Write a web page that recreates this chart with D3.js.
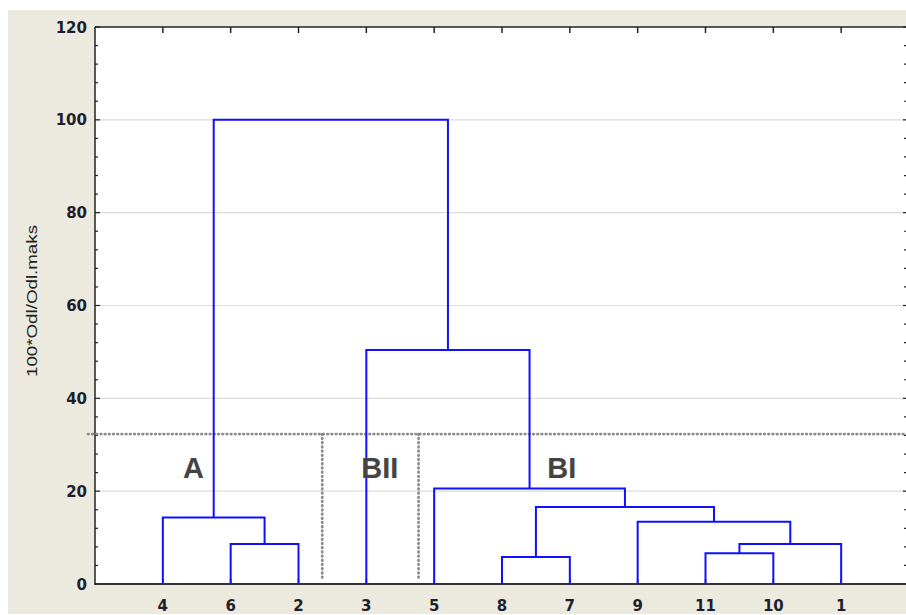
<!DOCTYPE html>
<html>
<head>
<meta charset="utf-8">
<script src="https://cdn.jsdelivr.net/npm/d3@7"></script>
<style>
  body { margin: 0; background: #fff; }
  svg { display: block; }
</style>
</head>
<body>
<div id="chart"></div>
<script>
// leaf order along the x axis
var leaves = ['4', '6', '2', '3', '5', '8', '7', '9', '11', '10', '1'];

// merges: node ids 0..10 are leaves, each merge makes a new node 11, 12, ...
var mergeLeft   = [5, 8, 1, 12, 7, 0, 11, 4, 3, 16];
var mergeRight  = [6, 9, 2, 10, 14, 13, 15, 17, 18, 19];
var mergeHeight = [5.8, 6.6, 8.6, 8.6, 13.4, 14.3, 16.6, 20.6, 50.4, 100];

var yTicks = [0, 20, 40, 60, 80, 100, 120];
var cutHeight = 32.3;
var cutDividers = [3.35, 4.77];
var groupNames = ['A', 'BII', 'BI'];
var groupPos = [1.45, 4.2, 6.88];

var W = 906, H = 615;
var margin = { top: 27, left: 95, bottom: 31 };

var x = d3.scaleLinear().domain([0, 12]).range([margin.left, 909]);
var y = d3.scaleLinear().domain([0, 120]).range([H - margin.bottom, margin.top]);

var svg = d3.select('#chart').append('svg')
  .attr('width', W)
  .attr('height', H);

// beige frame + white plot area
svg.append('rect').attr('x', 8).attr('y', 10).attr('width', W - 8).attr('height', 604).attr('fill', '#ece9df');
svg.append('rect')
  .attr('x', x(0)).attr('y', y(120))
  .attr('width', x(12) - x(0)).attr('height', y(0) - y(120))
  .attr('fill', '#fff');

// grid
svg.append('g').selectAll('line')
  .data(yTicks.filter(function (d) { return d > 0 && d < 120; }))
  .enter().append('line')
  .attr('x1', x(0)).attr('x2', x(12))
  .attr('y1', function (d) { return y(d); })
  .attr('y2', function (d) { return y(d); })
  .attr('stroke', '#dcdcdc').attr('stroke-width', 1.2);

// minor ticks, left (inward) and right (inward)
var minor = d3.range(0, 121, 4);
svg.append('g').selectAll('line').data(minor).enter().append('line')
  .attr('x1', x(0)).attr('x2', function (d) { return x(0) + (d % 20 === 0 ? 5 : 3); })
  .attr('y1', function (d) { return y(d); }).attr('y2', function (d) { return y(d); })
  .attr('stroke', '#222').attr('stroke-width', 1.2);
svg.append('g').selectAll('line').data(minor).enter().append('line')
  .attr('x1', x(12)).attr('x2', function (d) { return x(12) - (d % 20 === 0 ? 6 : 5); })
  .attr('y1', function (d) { return y(d); }).attr('y2', function (d) { return y(d); })
  .attr('stroke', '#222').attr('stroke-width', 1.2);

// top and bottom category ticks
var cats = d3.range(1, leaves.length + 1);
svg.append('g').selectAll('line').data(cats).enter().append('line')
  .attr('x1', function (d) { return x(d); }).attr('x2', function (d) { return x(d); })
  .attr('y1', y(120)).attr('y2', y(120) + 6)
  .attr('stroke', '#222').attr('stroke-width', 1.5);
svg.append('g').selectAll('line').data(cats).enter().append('line')
  .attr('x1', function (d) { return x(d); }).attr('x2', function (d) { return x(d); })
  .attr('y1', y(0)).attr('y2', y(0) - 5)
  .attr('stroke', '#222').attr('stroke-width', 1.5);

// axis lines
svg.append('line').attr('x1', x(0)).attr('x2', x(12)).attr('y1', y(120)).attr('y2', y(120))
  .attr('stroke', '#222').attr('stroke-width', 1.5);
svg.append('line').attr('x1', x(0)).attr('x2', x(12)).attr('y1', y(0)).attr('y2', y(0))
  .attr('stroke', '#333').attr('stroke-width', 2);
svg.append('line').attr('x1', x(0)).attr('x2', x(0)).attr('y1', y(0) + 1).attr('y2', y(120))
  .attr('stroke', '#222').attr('stroke-width', 1.5);

// tick labels
svg.append('g').selectAll('text').data(yTicks).enter().append('text')
  .attr('x', x(0) - 8)
  .attr('y', function (d) { return y(d) + 5.5; })
  .attr('text-anchor', 'end')
  .style('font', 'bold 15px "DejaVu Sans", Arial, sans-serif')
  .attr('fill', '#1e1e2c')
  .text(function (d) { return d; });

svg.append('g').selectAll('text').data(leaves).enter().append('text')
  .attr('x', function (d, i) { return x(i + 1); })
  .attr('y', 611)
  .attr('text-anchor', 'middle')
  .style('font', 'bold 15px "DejaVu Sans", Arial, sans-serif')
  .attr('fill', '#1e1e2c')
  .text(function (d) { return d; });

// y title
svg.append('text')
  .attr('transform', 'translate(37,' + 301 + ') rotate(-90)')
  .attr('text-anchor', 'middle')
  .attr('textLength', 152)
  .attr('lengthAdjust', 'spacingAndGlyphs')
  .style('font', '14px Arial, "Liberation Sans", sans-serif')
  .attr('fill', '#222')
  .text('100*Odl/Odl.maks');

// cut lines (dotted)
var dot = { stroke: '#8c8c8c', width: 2.8, dash: '0.6,3.6' };
svg.append('line')
  .attr('x1', x(0) - 7).attr('x2', W)
  .attr('y1', y(cutHeight)).attr('y2', y(cutHeight))
  .attr('stroke', dot.stroke).attr('stroke-width', dot.width)
  .attr('stroke-dasharray', dot.dash).attr('stroke-linecap', 'round');
svg.append('g').selectAll('line').data(cutDividers).enter().append('line')
  .attr('x1', function (d) { return x(d); }).attr('x2', function (d) { return x(d); })
  .attr('y1', y(cutHeight)).attr('y2', y(0.9))
  .attr('stroke', dot.stroke).attr('stroke-width', dot.width)
  .attr('stroke-dasharray', dot.dash).attr('stroke-linecap', 'round');

// dendrogram
var nodeX = leaves.map(function (d, i) { return i + 1; });
var nodeH = leaves.map(function () { return 0; });
var links = [];
mergeHeight.forEach(function (h, i) {
  var a = mergeLeft[i], b = mergeRight[i];
  links.push({ x1: nodeX[a], h1: nodeH[a], x2: nodeX[b], h2: nodeH[b], h: h });
  nodeX.push((nodeX[a] + nodeX[b]) / 2);
  nodeH.push(h);
});

svg.append('g').selectAll('path').data(links).enter().append('path')
  .attr('d', function (d) {
    return 'M' + x(d.x1) + ',' + y(d.h1) +
      'V' + y(d.h) + 'H' + x(d.x2) + 'V' + y(d.h2);
  })
  .attr('fill', 'none')
  .attr('stroke', '#1010ff')
  .attr('stroke-width', 2);

// group labels
svg.append('g').selectAll('text').data(groupNames).enter().append('text')
  .attr('x', function (d, i) { return x(groupPos[i]); })
  .attr('y', y(25.2) + 10.5)
  .attr('text-anchor', 'middle')
  .style('font', 'bold 29px Arial, "Liberation Sans", sans-serif')
  .attr('fill', '#444')
  .text(function (d) { return d; });
</script>
</body>
</html>
